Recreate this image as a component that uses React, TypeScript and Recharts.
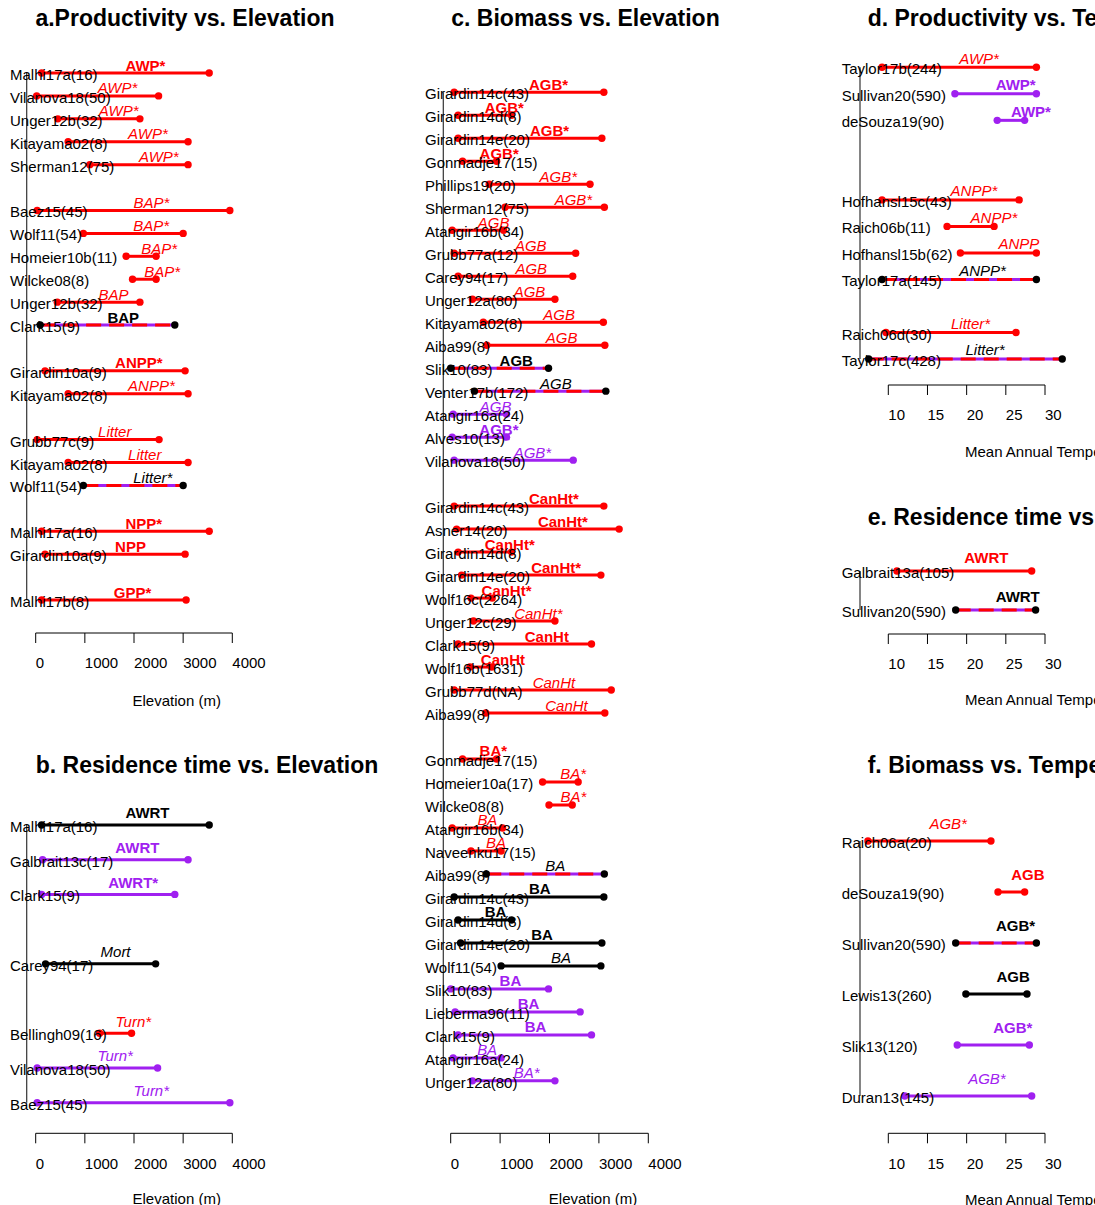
import React from 'react';
import { ComposedChart, Scatter, XAxis, YAxis, ReferenceLine } from 'recharts';

const RED = '#ff0000';
const PURPLE = '#a020f0';
const FONT = "'Liberation Sans', Arial, Helvetica, sans-serif";

// kind: first letter = colour (R red, P purple, K black, D red/purple dashed with black label)
//       second letter = label style (b bold, i italic). null rows are the gaps between groups.

// a. Productivity vs. Elevation
const aStudy = ['Malhi17a(16)', 'Vilanova18(50)', 'Unger12b(32)', 'Kitayama02(8)', 'Sherman12(75)', null,
  'Baez15(45)', 'Wolf11(54)', 'Homeier10b(11)', 'Wilcke08(8)', 'Unger12b(32)', 'Clark15(9)', null,
  'Girardin10a(9)', 'Kitayama02(8)', null,
  'Grubb77c(9)', 'Kitayama02(8)', 'Wolf11(54)', null,
  'Malhi17a(16)', 'Girardin10a(9)', null,
  'Malhi17b(8)'];
const aLow = [120, 20, 450, 660, 1100, null, 30, 970, 1840, 1970, 440, 90, null, 190, 660, null, 30, 660, 970, null, 120, 190, null, 120];
const aHigh = [3530, 2500, 2120, 3100, 3100, null, 3950, 3000, 2450, 2450, 2120, 2830, null, 3040, 3100, null, 2510, 3100, 3000, null, 3530, 3040, null, 3060];
const aVar = ['AWP*', 'AWP*', 'AWP*', 'AWP*', 'AWP*', null, 'BAP*', 'BAP*', 'BAP*', 'BAP*', 'BAP', 'BAP', null,
  'ANPP*', 'ANPP*', null, 'Litter', 'Litter', 'Litter*', null, 'NPP*', 'NPP', null, 'GPP*'];
const aKind = ['Rb', 'Ri', 'Ri', 'Ri', 'Ri', null, 'Ri', 'Ri', 'Ri', 'Ri', 'Ri', 'Db', null,
  'Rb', 'Ri', null, 'Ri', 'Ri', 'Di', null, 'Rb', 'Rb', null, 'Rb'];

// b. Residence time vs. Elevation
const bStudy = ['Malhi17a(16)', 'Galbrait13c(17)', 'Clark15(9)', null, 'Carey94(17)', null,
  'Bellingh09(16)', 'Vilanova18(50)', 'Baez15(45)'];
const bLow = [120, 140, 120, null, 200, null, 1300, 30, 30];
const bHigh = [3530, 3100, 2830, null, 2440, null, 1950, 2480, 3950];
const bVar = ['AWRT', 'AWRT', 'AWRT*', null, 'Mort', null, 'Turn*', 'Turn*', 'Turn*'];
const bKind = ['Kb', 'Pb', 'Pb', null, 'Ki', null, 'Ri', 'Pi', 'Pi'];

// c. Biomass vs. Elevation
const cStudy = ['Girardin14c(43)', 'Girardin14d(8)', 'Girardin14e(20)', 'Gonmadje17(15)', 'Phillips19(20)',
  'Sherman12(75)', 'Atangir16b(34)', 'Grubb77a(12)', 'Carey94(17)', 'Unger12a(80)', 'Kitayama02(8)',
  'Aiba99(8)', 'Slik10(83)', 'Venter17b(172)', 'Atangir16a(24)', 'Alves10(13)', 'Vilanova18(50)', null,
  'Girardin14c(43)', 'Asner14(20)', 'Girardin14d(8)', 'Girardin14e(20)', 'Wolf16c(2264)', 'Unger12c(29)',
  'Clark15(9)', 'Wolf16b(1631)', 'Grubb77d(NA)', 'Aiba99(8)', null,
  'Gonmadje17(15)', 'Homeier10a(17)', 'Wilcke08(8)', 'Atangir16b(34)', 'Naveenku17(15)', 'Aiba99(8)',
  'Girardin14c(43)', 'Girardin14d(8)', 'Girardin14e(20)', 'Wolf11(54)', 'Slik10(83)', 'Lieberma96(11)',
  'Clark15(9)', 'Atangir16a(24)', 'Unger12a(80)'];
const cLow = [70, 150, 150, 240, 780, 1100, 30, 70, 150, 440, 660, 730, 0, 480, 50, 30, 70, null,
  70, 120, 150, 220, 410, 460, 150, 390, 70, 710, null,
  240, 1860, 1990, 30, 410, 720, 70, 150, 200, 1020, 0, 90, 150, 50, 440];
const cHigh = [3100, 1230, 3060, 930, 2820, 3110, 1070, 2530, 2470, 2110, 3090, 3120, 1980, 3140, 1130, 1130, 2480, null,
  3100, 3410, 1230, 3040, 840, 2110, 2850, 830, 3250, 3120, null,
  930, 2580, 2460, 1050, 1020, 3110, 3100, 1230, 3060, 3040, 1980, 2620, 2850, 1020, 2110];
const cVar = ['AGB*', 'AGB*', 'AGB*', 'AGB*', 'AGB*', 'AGB*', 'AGB', 'AGB', 'AGB', 'AGB', 'AGB', 'AGB', 'AGB', 'AGB',
  'AGB', 'AGB*', 'AGB*', null,
  'CanHt*', 'CanHt*', 'CanHt*', 'CanHt*', 'CanHt*', 'CanHt*', 'CanHt', 'CanHt', 'CanHt', 'CanHt', null,
  'BA*', 'BA*', 'BA*', 'BA', 'BA', 'BA', 'BA', 'BA', 'BA', 'BA', 'BA', 'BA', 'BA', 'BA', 'BA*'];
const cKind = ['Rb', 'Rb', 'Rb', 'Rb', 'Ri', 'Ri', 'Ri', 'Ri', 'Ri', 'Ri', 'Ri', 'Ri', 'Db', 'Di', 'Pi', 'Pb', 'Pi', null,
  'Rb', 'Rb', 'Rb', 'Rb', 'Rb', 'Ri', 'Rb', 'Rb', 'Ri', 'Ri', null,
  'Rb', 'Ri', 'Ri', 'Ri', 'Ri', 'Di', 'Kb', 'Kb', 'Kb', 'Ki', 'Pb', 'Pb', 'Pb', 'Pi', 'Pi'];

// d. Productivity vs. Temperature
const dStudy = ['Taylor17b(244)', 'Sullivan20(590)', 'deSouza19(90)', null, null,
  'Hofhansl15c(43)', 'Raich06b(11)', 'Hofhansl15b(62)', 'Taylor17a(145)', null,
  'Raich06d(30)', 'Taylor17c(428)'];
const dLow = [9.2, 18.5, 23.9, null, null, 9.2, 17.5, 19.2, 9.2, null, 9.7, 7.5];
const dHigh = [28.9, 28.9, 27.4, null, null, 26.7, 23.5, 28.9, 28.9, null, 26.3, 32.2];
const dVar = ['AWP*', 'AWP*', 'AWP*', null, null, 'ANPP*', 'ANPP*', 'ANPP', 'ANPP*', null, 'Litter*', 'Litter*'];
const dKind = ['Ri', 'Pb', 'Pb', null, null, 'Ri', 'Ri', 'Ri', 'Di', null, 'Ri', 'Di'];

// e. Residence time vs. Temperature
const eStudy = ['Galbrait13a(105)', 'Sullivan20(590)'];
const eLow = [11.1, 18.6];
const eHigh = [28.3, 28.8];
const eVar = ['AWRT', 'AWRT'];
const eKind = ['Rb', 'Db'];

// f. Biomass vs. Temperature
const fStudy = ['Raich06a(20)', 'deSouza19(90)', 'Sullivan20(590)', 'Lewis13(260)', 'Slik13(120)', 'Duran13(145)'];
const fLow = [7.4, 24.0, 18.6, 19.9, 18.8, 12.1];
const fHigh = [23.1, 27.4, 28.9, 27.7, 28.0, 28.3];
const fVar = ['AGB*', 'AGB', 'AGB*', 'AGB', 'AGB*', 'AGB*'];
const fKind = ['Ri', 'Rb', 'Db', 'Kb', 'Pb', 'Pi'];

const elevTicks = [0, 1000, 2000, 3000, 4000];
const tempTicks = [10, 15, 20, 25, 30];

type Row = { slot: number; name: string; lo: number; hi: number; v: string; kind: string };

const toRows = (study: any[], low: any[], high: any[], vars: any[], kinds: any[]): Row[] =>
  study.flatMap((name, i) =>
    name == null ? [] : [{ slot: i, name, lo: low[i], hi: high[i], v: vars[i], kind: kinds[i] }]);

const inkOf = (kind: string) => (kind[0] === 'R' ? RED : kind[0] === 'P' ? PURPLE : '#000');

const dot = (fill: string) => (p: any) => <circle cx={p.cx} cy={p.cy} r={3.7} fill={fill} />;

const VarLabel = (p: any) => {
  const k = p.payload.kind as string;
  return (
    <text x={p.cx} y={p.cy + 5.3} textAnchor="start" fontFamily={FONT} fontSize={15}
      fontWeight={k[1] === 'b' ? 700 : 400} fontStyle={k[1] === 'i' ? 'italic' : 'normal'} fill={inkOf(k)}>
      {p.payload.text}
    </text>
  );
};

// layout: page px of the chart box, two tick calibration points, first row px and row step, axis line px
const Panel = ({ rows, L }: { rows: Row[]; L: any }) => {
  const s = (L.px[1] - L.px[0]) / (L.val[1] - L.val[0]);
  const toVal = (px: number) => L.val[0] + (px - L.px[0]) / s;
  const xDomain = [toVal(L.left + L.yw), toVal(L.left + L.width)];
  const yDomain = [(L.top - L.row0) / L.step, (L.axis - L.row0) / L.step];
  const height = L.axis - L.top + L.xh;
  const spine = toVal(L.spine);
  const last = rows[rows.length - 1].slot;
  const names = new Map(rows.map((r) => [r.slot, r.name]));
  const labels = rows.map((r) => ({ x: (r.lo + r.hi) / 2, y: r.slot - 0.34, text: r.v, kind: r.kind }));
  const ticks: number[] = L.ticks;

  return (
    <div style={{ position: 'absolute', left: L.left, top: L.top }}>
      <ComposedChart width={L.width} height={height} margin={{ top: 0, right: 0, bottom: 0, left: 0 }}>
        <XAxis type="number" dataKey="x" domain={xDomain} allowDataOverflow ticks={ticks} interval={0}
          axisLine={false} tickLine={{ stroke: '#000' }} tickSize={10} tickMargin={0} height={L.xh}
          tick={(p: any) => (
            <text x={p.x} y={p.y + 25.4} textAnchor="start" fontFamily={FONT} fontSize={15} fill="#000">
              {p.payload.value}
            </text>
          )} />
        <YAxis type="number" dataKey="y" domain={yDomain} allowDataOverflow reversed width={L.yw}
          ticks={rows.map((r) => r.slot)} interval={0} axisLine={false} tickLine={false} tickSize={0} tickMargin={0}
          tick={(p: any) => (
            <text x={L.label - L.left} y={p.y + 7} textAnchor="start" fontFamily={FONT} fontSize={15} fill="#000">
              {names.get(p.payload.value)}
            </text>
          )} />
        <ReferenceLine ifOverflow="visible" segment={[{ x: spine, y: 0 }, { x: spine, y: last }]}
          stroke="#333" strokeWidth={1.2} />
        <ReferenceLine ifOverflow="visible"
          segment={[{ x: ticks[0], y: yDomain[1] }, { x: ticks[ticks.length - 1], y: yDomain[1] }]}
          stroke="#000" strokeWidth={1} />
        {rows.map((r) => {
          const pts = [{ x: r.lo, y: r.slot }, { x: r.hi, y: r.slot }];
          if (r.kind[0] === 'D') {
            return [
              <Scatter key={`u${r.slot}`} data={pts} line={{ stroke: PURPLE, strokeWidth: 3 }}
                shape={() => <g />} isAnimationActive={false} />,
              <Scatter key={`d${r.slot}`} data={pts} line={{ stroke: RED, strokeWidth: 3, strokeDasharray: '15 8' }}
                shape={dot('#000')} isAnimationActive={false} />,
            ];
          }
          const ink = inkOf(r.kind);
          return (
            <Scatter key={`s${r.slot}`} data={pts} line={{ stroke: ink, strokeWidth: 3 }}
              shape={dot(ink)} isAnimationActive={false} />
          );
        })}
        <Scatter data={labels} shape={VarLabel} isAnimationActive={false} />
      </ComposedChart>
    </div>
  );
};

const elevCal = { px: [35.7, 232.3], val: [0, 4000] };
const tempCal = { px: [888.3, 1045], val: [10, 30] };

const panels = [
  { rows: toRows(aStudy, aLow, aHigh, aVar, aKind),
    L: { ...elevCal, left: 0, top: 40, width: 290, yw: 10, xh: 80, row0: 73, step: 22.913, axis: 633, label: 10, spine: 26.7, ticks: elevTicks } },
  { rows: toRows(bStudy, bLow, bHigh, bVar, bKind),
    L: { ...elevCal, left: 0, top: 790, width: 290, yw: 10, xh: 72, row0: 825, step: 34.71, axis: 1133.3, label: 10, spine: 26.7, ticks: elevTicks } },
  { rows: toRows(cStudy, cLow, cHigh, cVar, cKind),
    L: { px: [450.7, 648.3], val: [0, 4000], left: 420, top: 60, width: 300, yw: 10, xh: 72, row0: 92.3, step: 22.99, axis: 1133.3, label: 425, spine: 443.3, ticks: elevTicks } },
  { rows: toRows(dStudy, dLow, dHigh, dVar, dKind),
    L: { ...tempCal, left: 835, top: 40, width: 260, yw: 5, xh: 80, row0: 67.3, step: 26.52, axis: 385, label: 841.7, spine: 860, ticks: tempTicks } },
  { rows: toRows(eStudy, eLow, eHigh, eVar, eKind),
    L: { ...tempCal, left: 835, top: 540, width: 260, yw: 5, xh: 80, row0: 571, step: 39, axis: 634, label: 841.7, spine: 860, ticks: tempTicks } },
  { rows: toRows(fStudy, fLow, fHigh, fVar, fKind),
    L: { ...tempCal, left: 835, top: 800, width: 260, yw: 5, xh: 72, row0: 841, step: 51, axis: 1133.3, label: 841.7, spine: 860, ticks: tempTicks } },
];

const App = () => (
  <div style={{ position: 'absolute', left: 0, top: 0, width: 1095, height: 1205, overflow: 'hidden', background: '#fff' }}>
    <svg width={1095} height={1205} style={{ position: 'absolute', left: 0, top: 0 }} fontFamily={FONT} fill="#000">
      <g fontSize={23} fontWeight={700}>
        <text x={185} y={26} textAnchor="middle">a.Productivity vs. Elevation</text>
        <text x={207} y={773} textAnchor="middle">b. Residence time vs. Elevation</text>
        <text x={585.5} y={26} textAnchor="middle">c. Biomass vs. Elevation</text>
        <text x={867.7} y={26}>d. Productivity vs. Temperature</text>
        <text x={867.7} y={525}>e. Residence time vs. Temperature</text>
        <text x={867.7} y={773}>f. Biomass vs. Temperature</text>
      </g>
      <g fontSize={15}>
        <text x={176.7} y={705.5} textAnchor="middle">Elevation (m)</text>
        <text x={176.7} y={1204} textAnchor="middle">Elevation (m)</text>
        <text x={593} y={1203.5} textAnchor="middle">Elevation (m)</text>
        <text x={965} y={456.5}>Mean Annual Temperature (°C)</text>
        <text x={965} y={705}>Mean Annual Temperature (°C)</text>
        <text x={965} y={1204.5}>Mean Annual Temperature (°C)</text>
      </g>
    </svg>
    {panels.map((p, i) => <Panel key={i} rows={p.rows} L={p.L} />)}
  </div>
);

export default App;
